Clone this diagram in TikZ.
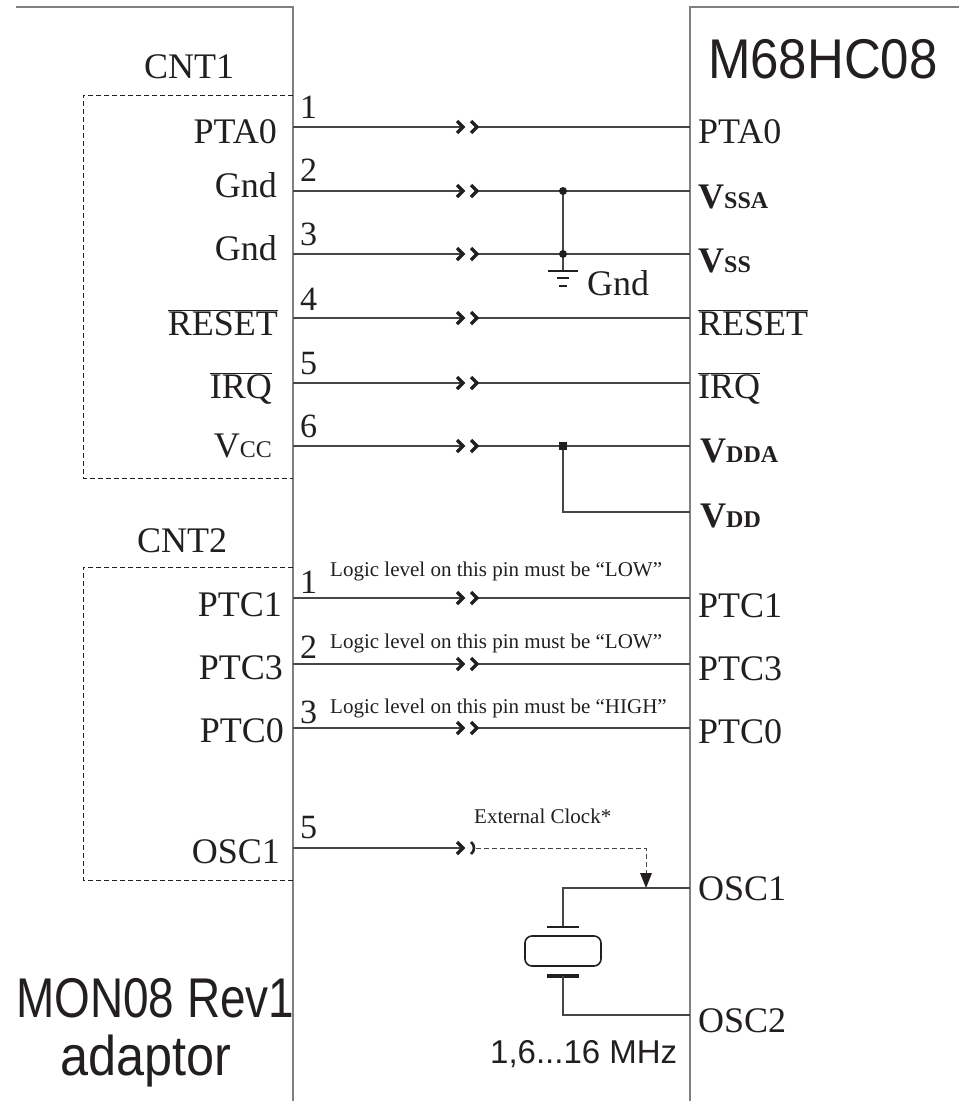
\documentclass[tikz,border=0pt]{standalone}
\usepackage{fontspec}
\usepackage{graphicx}
\setmainfont{Liberation Serif}
\setsansfont{Liberation Sans}
\usetikzlibrary{arrows.meta}
\definecolor{tc}{RGB}{35,31,32}
\definecolor{bordc}{RGB}{128,128,128}
\definecolor{wirec}{RGB}{70,70,70}
\newcommand\chevpair[2]{%
  \draw[chevln] (#1) ++(-6,-6) -- ++(6,6) -- ++(-6,6);
  \draw[chevln] (#2) ++(-6,-6) -- ++(6,6) -- ++(-6,6);}
\begin{document}
\begin{tikzpicture}[x=1pt,y=-1pt,
  borderln/.style={draw=bordc, line width=1.2pt},
  wireln/.style={draw=wirec, line width=1.1pt},
  chevln/.style={draw=tc, line width=3.3pt, line join=miter},
  dashbox/.style={draw=tc, line width=0.9pt, dash pattern=on 5pt off 3pt},
  lbl/.style={font=\fontsize{36}{36}\selectfont, text=tc, inner sep=0pt},
  lblL/.style={lbl, anchor=base east},
  lblR/.style={lbl, anchor=base west},
  pinno/.style={font=\fontsize{34}{34}\selectfont, text=tc, inner sep=0pt, anchor=base west},
  notetxt/.style={font=\fontsize{21}{21}\selectfont, text=tc, inner sep=0pt, anchor=base west},
  bigsans/.style={font=\sffamily\fontsize{56}{56}\selectfont, text=tc, inner sep=0pt, anchor=base west},
]
\useasboundingbox (0,0) rectangle (959,1101);

% borders
\draw[borderln] (16,7) -- (293,7) -- (293,1101);
\draw[borderln] (959,7) -- (690,7) -- (690,1101);

% dashed connector boxes
\draw[dashbox] (293,95) -- (83,95) -- (83,478) -- (293,478);
\draw[dashbox] (293,567) -- (83,567) -- (83,880) -- (293,880);

% titles
\node[lbl, anchor=base] (cnt1) at (189,78) {CNT1};
\node[lbl, anchor=base] (cnt2) at (182,552) {CNT2};
\node[bigsans] (chip) at (708,78) {\scalebox{0.91}[1]{M68HC08}};
\node[bigsans] (mon) at (16,1017) {\scalebox{0.82}[1]{MON08 Rev1}};
\node[bigsans] (adp) at (60,1075) {\scalebox{0.9}[1]{adaptor}};

% pin coordinates
\foreach \n/\y in {1/127,2/191,3/254,4/318,5/383,6/446,7/598,8/664,9/728,10/848}{
  \coordinate (L\n) at (293,\y);
  \coordinate (A\n) at (463,\y);
  \coordinate (B\n) at (477,\y);
  \coordinate (R\n) at (690,\y);
}
% straight pin wires with chevrons
\foreach \n in {1,2,3,4,5,6,7,8,9}{
  \draw[wireln] (L\n) -- (A\n);
  \draw[wireln] (B\n) -- (R\n);
  \chevpair{A\n}{B\n}
}

% pin numbers
\node[pinno] (n1) at (300,118) {1};
\node[pinno] (n2) at (300,181) {2};
\node[pinno] (n3) at (300,245) {3};
\node[pinno] (n4) at (300,310) {4};
\node[pinno] (n5) at (300,374) {5};
\node[pinno] (n6) at (300,437) {6};
\node[pinno] (m1) at (300,593) {1};
\node[pinno] (m2) at (300,658) {2};
\node[pinno] (m3) at (300,723) {3};
\node[pinno] (m5) at (300,838) {5};

% left labels
\node[lblL] (lp1) at (277,143) {PTA0};
\node[lblL] (lp2) at (277,197) {Gnd};
\node[lblL] (lp3) at (277,260) {Gnd};
\node[lblL] (lp4) at (278,335) {$\overline{\mbox{RESET}}$};
\node[lblL] (lp5) at (272,398) {$\overline{\mbox{IRQ}}$};
\node[lblL] (lp6) at (272,457) {V{\fontsize{24}{24}\selectfont CC}};
\node[lblL] (lp7) at (282,616) {PTC1};
\node[lblL] (lp8) at (283,679) {PTC3};
\node[lblL] (lp9) at (284,742) {PTC0};
\node[lblL] (lp10) at (280,863) {OSC1};

% right labels
\node[lblR] (rp1) at (698,143) {PTA0};
\node[lblR] (rp2) at (698,208) {\bfseries V{\fontsize{24}{24}\selectfont SSA}};
\node[lblR] (rp3) at (698,272) {\bfseries V{\fontsize{24}{24}\selectfont SS}};
\node[lblR] (rp4) at (698,335) {$\overline{\mbox{RESET}}$};
\node[lblR] (rp5) at (698,398) {$\overline{\mbox{IRQ}}$};
\node[lblR] (rp6) at (700,462) {\bfseries V{\fontsize{24}{24}\selectfont DDA}};
\node[lblR] (rp7) at (700,527) {\bfseries V{\fontsize{24}{24}\selectfont DD}};
\node[lblR] (rp8) at (698,617) {PTC1};
\node[lblR] (rp9) at (698,680) {PTC3};
\node[lblR] (rp10) at (698,743) {PTC0};
\node[lblR] (rp11) at (698,900) {OSC1};
\node[lblR] (rp12) at (698,1032) {OSC2};

% ground net
\coordinate (g1) at (563,191);
\coordinate (g2) at (563,254);
\coordinate (g3) at (563,271);
\draw[wireln] (g1) -- (g3);
\fill[tc] (g1) circle (4);
\fill[tc] (g2) circle (4);
\draw[tc, line width=2pt] (548,271) -- (578,271);
\draw[tc, line width=2.5pt] (557,278) -- (569,278);
\draw[tc, line width=2.5pt] (559,286) -- (567,286);
\node[lblR] (gndl) at (587,295) {Gnd};

% VDD net
\coordinate (v1) at (563,446);
\coordinate (v2) at (563,512);
\coordinate (v3) at (690,512);
\draw[wireln] (v1) -- (v2) -- (v3);
\fill[tc] (559,442) rectangle (567,450);

% notes
\node[notetxt] (t1) at (330,576) {Logic level on this pin must be “LOW”};
\node[notetxt] (t2) at (330,648) {Logic level on this pin must be “LOW”};
\node[notetxt] (t3) at (330,713) {Logic level on this pin must be “HIGH”};
\node[notetxt] (t4) at (474,823) {External Clock*};

% external clock
\draw[wireln] (L10) -- (A10);
\draw[chevln] (A10) ++(-6,-6) -- ++(6,6) -- ++(-6,6);
\draw[tc, line width=2.6pt] (471,842) .. controls (475,845) and (475,851) .. (471,854);
\coordinate (d1) at (476,848);
\coordinate (d2) at (646,848);
\coordinate (o1) at (646,888);
\draw[draw=wirec, line width=1pt, dash pattern=on 5pt off 3pt] (d1) -- (d2) -- (646,874);
\fill[tc] (640,873) -- (652,873) -- (o1) -- cycle;

% crystal
\coordinate (x1) at (563,888);
\coordinate (x2) at (563,927);
\coordinate (x3) at (563,976);
\coordinate (x4) at (563,1015);
\coordinate (osc2) at (690,1015);
\draw[wireln] (R10 |- o1) -- (x1) -- (x2);
\draw[tc, line width=1.4pt] (547,927) -- (579,927);
\draw[tc, line width=1.6pt, rounded corners=7pt] (525,936) rectangle (601,966);
\draw[tc, line width=3.6pt] (547,976) -- (579,976);
\draw[wireln] (x3) -- (x4) -- (osc2);
\node[font=\sffamily\fontsize{33}{33}\selectfont, text=tc, inner sep=0pt, anchor=base west] (freq) at (490,1063) {1,6...16 MHz};
\end{tikzpicture}
\end{document}
